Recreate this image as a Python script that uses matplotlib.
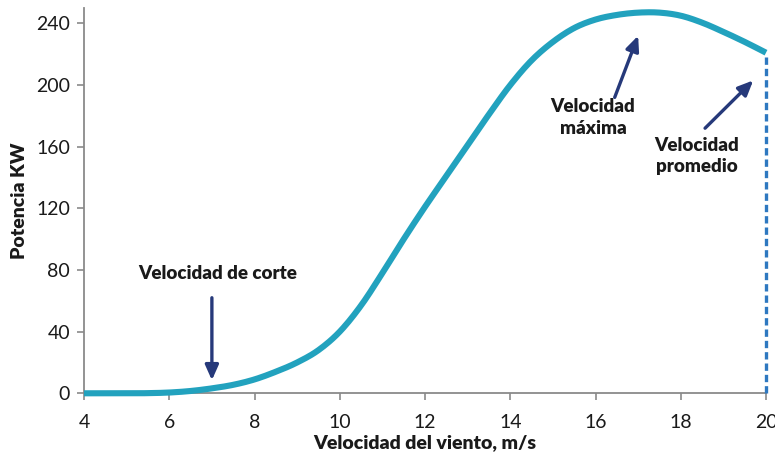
import matplotlib
matplotlib.use("Agg")
import matplotlib.pyplot as plt
import numpy as np

plt.rcParams['font.family'] = ['Lato', 'DejaVu Sans']

# Wind speed (m/s) and turbine power output (kW)
wind_speed = [4, 4.5, 5, 5.5, 6, 6.5, 7, 7.5, 8, 8.5, 9, 9.5, 10, 10.5, 11,
              11.5, 12, 12.5, 13, 13.5, 14, 14.5, 15, 15.5, 16, 16.5, 17,
              17.5, 18, 18.5, 19, 19.5, 20]
power_kw = [0, 0, 0, 0.1, 0.5, 1.5, 3.2, 5.5, 9, 14, 20, 28, 40, 57, 78,
            100, 121, 141, 161, 181, 200, 216, 228, 237, 242.5, 245.5, 247,
            247, 245, 240.5, 234.5, 228, 221]

x_ticks = [4, 6, 8, 10, 12, 14, 16, 18, 20]
y_ticks = [0, 40, 80, 120, 160, 200, 240]

cut_in_speed = 7.0
max_speed = 17.0
mean_speed = 20.0

curve_color = "#22a2be"
arrow_color = "#26397a"
dash_color = "#2e78c0"


def catmull_rom(xs, ys, steps=12):
    """Smooth curve passing through every (x, y) point."""
    xs = np.asarray(xs, float)
    ys = np.asarray(ys, float)
    px = np.concatenate([[2 * xs[0] - xs[1]], xs, [2 * xs[-1] - xs[-2]]])
    py = np.concatenate([[2 * ys[0] - ys[1]], ys, [2 * ys[-1] - ys[-2]]])
    out_x, out_y = [], []
    t = np.linspace(0, 1, steps, endpoint=False)
    for i in range(1, len(px) - 2):
        for arr, out in ((px, out_x), (py, out_y)):
            p0, p1, p2, p3 = arr[i - 1], arr[i], arr[i + 1], arr[i + 2]
            seg = 0.5 * ((2 * p1) + (-p0 + p2) * t
                         + (2 * p0 - 5 * p1 + 4 * p2 - p3) * t ** 2
                         + (-p0 + 3 * p1 - 3 * p2 + p3) * t ** 3)
            out.extend(seg)
    out_x.append(xs[-1])
    out_y.append(ys[-1])
    return np.array(out_x), np.array(out_y)


fig = plt.figure(figsize=(7.75, 4.62), dpi=100)
ax = fig.add_axes([0.1084, 0.1487, 0.88, 0.834])

sx, sy = catmull_rom(wind_speed, power_kw)
sy = np.clip(sy, 0, None)
ax.plot(sx, sy, color=curve_color, lw=4.4, solid_capstyle='butt',
        clip_on=False, zorder=3)

# Dashed marker at the mean wind speed
ax.plot([mean_speed, mean_speed], [0, power_kw[-1]], color=dash_color,
        lw=2.4, ls=(0, (2.2, 1.2)), clip_on=False, zorder=4)

ax.set_xlim(4, 20)
ax.set_ylim(0, 250)
ax.set_xticks(x_ticks)
ax.set_yticks(y_ticks)

for side in ('top', 'right'):
    ax.spines[side].set_visible(False)
for side in ('left', 'bottom'):
    ax.spines[side].set_color('#8a8a8a')
    ax.spines[side].set_linewidth(1.3)

ax.tick_params(axis='both', colors='#8a8a8a', length=5, width=1.2,
               labelsize=14, labelcolor='#1a1a1a')
ax.tick_params(axis='x', pad=10)
ax.tick_params(axis='y', pad=5)

ax.set_xlabel("Velocidad del viento, m/s", fontsize=14, fontweight='heavy',
              color='#1a1a1a', labelpad=2)
ax.set_ylabel("Potencia KW", fontsize=14, fontweight='heavy',
              color='#1a1a1a', labelpad=6)

text_kw = dict(fontsize=13.5, fontweight='heavy', color='#1a1a1a',
               ha='center', va='center', linespacing=1.35)
arrow_kw = dict(arrowstyle='-|>,head_length=0.9,head_width=0.4',
                color=arrow_color, lw=2.4, shrinkA=0, shrinkB=0)

ax.text(7.14, 78, "Velocidad de corte", **text_kw)
ax.annotate("", xy=(cut_in_speed, 8.5), xytext=(cut_in_speed, 62),
            arrowprops=arrow_kw)

ax.text(15.94, 179, "Velocidad\nmáxima", **text_kw)
ax.annotate("", xy=(max_speed, 232), xytext=(16.45, 192),
            arrowprops=arrow_kw)

ax.text(18.38, 154, "Velocidad\npromedio", **text_kw)
ax.annotate("", xy=(19.7, 203), xytext=(18.57, 172),
            arrowprops=arrow_kw)

fig.savefig("out.png", dpi=100)
